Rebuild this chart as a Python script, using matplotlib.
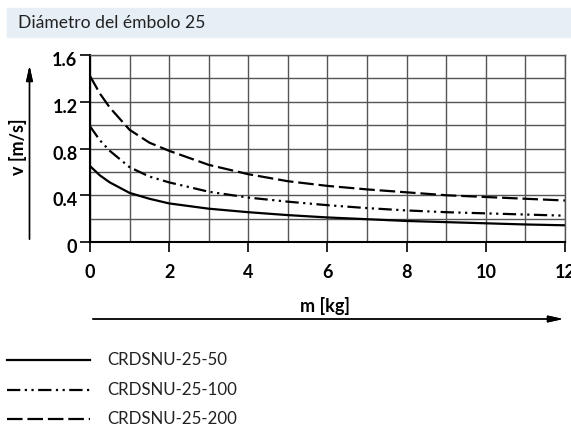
import matplotlib.pyplot as plt
from matplotlib.lines import Line2D
from matplotlib.patches import Rectangle
from matplotlib.transforms import ScaledTranslation

W, H = 571, 430

mass = [0, 0.25, 0.5, 1, 1.5, 2, 3, 4, 5, 6, 7, 8, 9, 10, 11, 12]
v_50 = [0.65, 0.57, 0.51, 0.42, 0.37, 0.33, 0.285, 0.255, 0.23, 0.21, 0.195, 0.18, 0.17, 0.16, 0.15, 0.143]
v_100 = [0.99, 0.87, 0.78, 0.64, 0.56, 0.51, 0.43, 0.38, 0.345, 0.315, 0.29, 0.27, 0.255, 0.245, 0.235, 0.225]
v_200 = [1.42, 1.27, 1.15, 0.96, 0.85, 0.78, 0.66, 0.58, 0.52, 0.48, 0.45, 0.425, 0.40, 0.385, 0.37, 0.355]

labels = ["CRDSNU-25-50", "CRDSNU-25-100", "CRDSNU-25-200"]
x_ticks = [0, 2, 4, 6, 8, 10, 12]
y_ticks = [0, 0.4, 0.8, 1.2, 1.6]
y_tick_labels = ["0", "0.4", "0.8", "1.2", "1.6"]
title = "Diámetro del émbolo 25"

styles = [
    "-",
    (0, (6, 2, 1, 2, 1, 2)),
    (0, (7, 2.2)),
]

plt.rcParams["font.family"] = ["Lato", "DejaVu Sans"]


def fx(px):
    return px / W


def fy(py):
    return 1 - py / H


fig = plt.figure(figsize=(W / 100, H / 100), dpi=100)
ax = fig.add_axes([fx(90), fy(242), fx(565) - fx(90), fy(55) - fy(242)])

for vals, ls in zip([v_50, v_100, v_200], styles):
    ax.plot(mass, vals, color="black", lw=1.6, linestyle=ls, solid_capstyle="butt")

ax.set_xlim(0, 12)
ax.set_ylim(0, 1.6)
ax.set_xticks(x_ticks)
ax.set_xticks(range(13), minor=True)
ax.set_yticks(y_ticks)
ax.set_yticks([i * 0.2 for i in range(9)], minor=True)
ax.set_xticklabels([str(t) for t in x_ticks], fontweight="bold", fontsize=13)
ax.set_yticklabels(y_tick_labels, fontweight="bold", fontsize=13)
ax.grid(which="both", color="#555555", lw=1.0)
ax.tick_params(which="major", length=7, width=1.2, color="black")
ax.tick_params(axis="x", which="major", pad=9)
ax.tick_params(axis="y", which="major", pad=2)
ax.tick_params(which="minor", length=0)
for lab in ax.get_yticklabels():
    lab.set_transform(lab.get_transform() + ScaledTranslation(0, -0.04, fig.dpi_scale_trans))
for side in ("top", "right"):
    ax.spines[side].set_color("#555555")
    ax.spines[side].set_linewidth(1.0)
for side in ("left", "bottom"):
    ax.spines[side].set_color("black")
    ax.spines[side].set_linewidth(1.5)
ax.set_axisbelow(True)

# title band
fig.patches.append(Rectangle((fx(7), fy(37)), 1 - fx(7), fy(8) - fy(37),
                             transform=fig.transFigure, color="#e6eef6", zorder=0))
fig.text(fx(18), fy(23), title, fontsize=12.6, va="center", ha="left", color="#222222")

# axis arrows
ax_arrow = dict(arrowstyle="-|>,head_length=0.9,head_width=0.2", color="black", lw=1.0)
fig.add_artist(plt.annotate("", xy=(fx(29.5), fy(63)), xytext=(fx(29.5), fy(242)),
                            xycoords="figure fraction", arrowprops=ax_arrow))
fig.add_artist(plt.annotate("", xy=(fx(566), fy(319)), xytext=(fx(90), fy(319)),
                            xycoords="figure fraction", arrowprops=ax_arrow))
fig.text(fx(18), fy(147), "v [m/s]", rotation=90, fontsize=13, fontweight="bold",
         ha="center", va="center")
fig.text(fx(325), fy(306), "m [kg]", fontsize=13, fontweight="bold",
         ha="center", va="center")

# legend
for i, (lab, ls) in enumerate(zip(labels, styles)):
    yy = fy(360 + i * 29.7)
    fig.add_artist(Line2D([fx(7), fx(90)], [yy, yy], color="black", lw=1.6,
                          linestyle=ls, transform=fig.transFigure))
    fig.text(fx(107), yy, lab, fontsize=12.2, va="center", ha="left", color="#222222")

fig.savefig("out.png", dpi=100, facecolor="white")
